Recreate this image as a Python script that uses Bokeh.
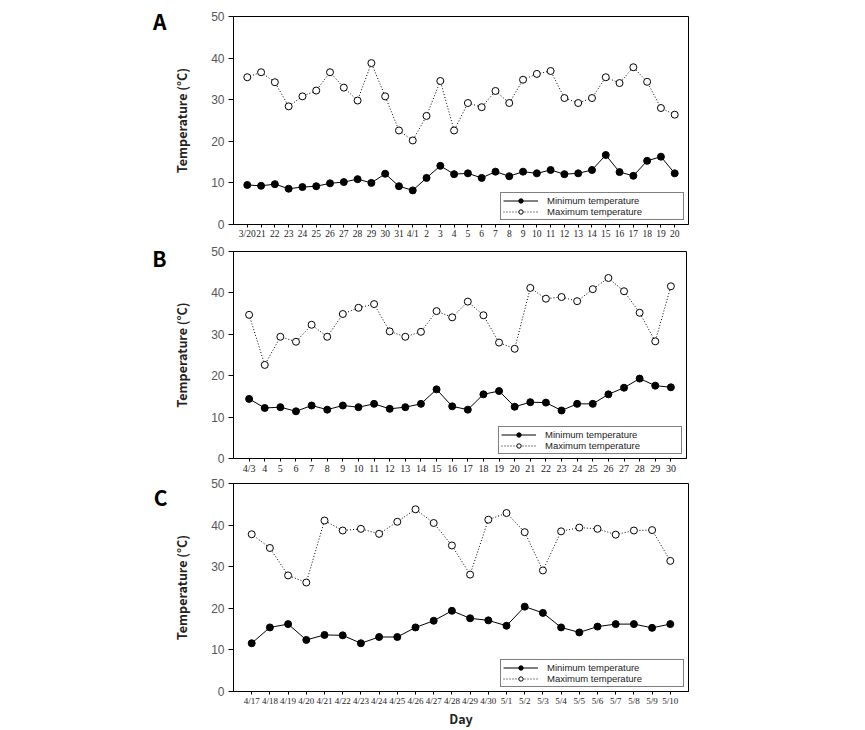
from bokeh.plotting import figure
from bokeh.layouts import column
from bokeh.models import FixedTicker, Legend, Range1d, LinearAxis
from bokeh.embed import file_html
from bokeh.resources import INLINE

# ---------------- data ----------------
days_a = ["3/20", "21", "22", "23", "24", "25", "26", "27", "28", "29", "30", "31",
          "4/1", "2", "3", "4", "5", "6", "7", "8", "9", "10", "11", "12", "13", "14",
          "15", "16", "17", "18", "19", "20"]
min_a = [9.5, 9.3, 9.7, 8.6, 9.0, 9.2, 9.9, 10.2, 10.9, 10.0, 12.2, 9.2,
         8.2, 11.2, 14.1, 12.1, 12.3, 11.2, 12.7, 11.6, 12.7, 12.3, 13.1, 12.1, 12.3, 13.1,
         16.7, 12.6, 11.7, 15.3, 16.3, 12.3]
max_a = [35.4, 36.6, 34.2, 28.4, 30.8, 32.2, 36.6, 32.9, 29.8, 38.8, 30.8, 22.6,
         20.2, 26.1, 34.5, 22.6, 29.2, 28.2, 32.1, 29.2, 34.8, 36.2, 36.9, 30.4, 29.2, 30.4,
         35.4, 34.0, 37.8, 34.3, 28.0, 26.4]

days_b = ["4/3", "4", "5", "6", "7", "8", "9", "10", "11", "12", "13", "14", "15", "16",
          "17", "18", "19", "20", "21", "22", "23", "24", "25", "26", "27", "28", "29", "30"]
min_b = [14.4, 12.2, 12.4, 11.4, 12.8, 11.8, 12.8, 12.4, 13.2, 12.0, 12.4, 13.2, 16.7, 12.6,
         11.8, 15.5, 16.3, 12.5, 13.6, 13.5, 11.6, 13.2, 13.2, 15.5, 17.1, 19.3, 17.6, 17.2]
max_b = [34.7, 22.6, 29.4, 28.2, 32.3, 29.4, 34.9, 36.4, 37.3, 30.7, 29.4, 30.6, 35.6, 34.1,
         37.9, 34.6, 28.0, 26.5, 41.2, 38.6, 39.0, 38.0, 40.9, 43.6, 40.4, 35.2, 28.3, 41.6]

days_c = ["4/17", "4/18", "4/19", "4/20", "4/21", "4/22", "4/23", "4/24", "4/25", "4/26",
          "4/27", "4/28", "4/29", "4/30", "5/1", "5/2", "5/3", "5/4", "5/5", "5/6", "5/7",
          "5/8", "5/9", "5/10"]
min_c = [11.6, 15.4, 16.2, 12.4, 13.6, 13.5, 11.6, 13.1, 13.1, 15.4, 17.0, 19.4, 17.6, 17.1,
         15.8, 20.4, 18.9, 15.4, 14.2, 15.6, 16.2, 16.2, 15.3, 16.2]
max_c = [37.8, 34.5, 27.9, 26.2, 41.1, 38.7, 39.1, 37.9, 40.8, 43.8, 40.5, 35.1, 28.1, 41.3,
         42.9, 38.3, 29.1, 38.5, 39.4, 39.1, 37.7, 38.7, 38.8, 31.4]

y_ticks = [0, 10, 20, 30, 40, 50]
series_names = ["Minimum temperature", "Maximum temperature"]
panel_letters = ["A", "B", "C"]

FONT = "Noto Sans CJK KR"
NARROW = "Liberation Sans Narrow"
SANS = "Liberation Sans"


def make_panel(days, mins, maxs, letter, frame_left, frame_w, frame_h, b_top, b_bottom,
               letter_y, letter_standoff, xfont, xlabel=None):
    n = len(days)
    x = list(range(n))
    p = figure(frame_width=frame_w, frame_height=frame_h,
               x_range=Range1d(-1, n), y_range=Range1d(0, 50),
               output_backend="svg", toolbar_location=None,
               min_border_left=frame_left, min_border_right=10,
               min_border_top=b_top, min_border_bottom=b_bottom)
    p.background_fill_color = "white"
    p.border_fill_color = "white"
    p.outline_line_color = "black"
    p.outline_line_width = 1
    p.xgrid.visible = False
    p.ygrid.visible = False

    r1 = p.line(x, mins, line_color="black", line_width=1)
    r2 = p.scatter(x, mins, marker="circle", size=7, fill_color="black", line_color="black")
    r3 = p.line(x, maxs, line_color="black", line_width=1, line_dash="1 2")
    r4 = p.scatter(x, maxs, marker="circle", size=7, fill_color="white", line_color="black",
                   line_width=1)

    legend = Legend(items=[(series_names[0], [r1, r2]), (series_names[1], [r3, r4])],
                    location="bottom_right")
    legend.margin = 4
    legend.padding = 2
    legend.spacing = 0
    legend.glyph_width = 35
    legend.glyph_height = 11
    legend.label_height = 11
    legend.label_width = 134
    legend.label_standoff = 9
    legend.label_text_font = SANS
    legend.label_text_font_size = "9.5px"
    legend.label_text_color = "#222222"
    legend.border_line_color = "black"
    legend.border_line_width = 1
    legend.background_fill_alpha = 1
    p.add_layout(legend, "center")

    xa = p.xaxis[0]
    xa.ticker = FixedTicker(ticks=x)
    xa.major_label_overrides = {i: d for i, d in enumerate(days)}
    xa.minor_tick_line_color = None
    xa.major_tick_in = 0
    xa.major_tick_out = 3
    xa.major_label_standoff = 1
    xa.major_label_text_font = NARROW
    xa.major_label_text_font_size = xfont
    xa.major_label_text_color = "#222222"
    xa.axis_line_color = "black"
    if xlabel:
        xa.axis_label = xlabel
        xa.axis_label_text_font = FONT
        xa.axis_label_text_font_size = "12.5px"
        xa.axis_label_text_font_style = "bold"
        xa.axis_label_text_color = "#222222"
        xa.axis_label_standoff = 0

    ya = p.yaxis[0]
    ya.ticker = FixedTicker(ticks=y_ticks)
    ya.minor_tick_line_color = None
    ya.major_tick_in = 0
    ya.major_tick_out = 5
    ya.major_label_standoff = 4
    ya.major_label_text_font = SANS
    ya.major_label_text_font_size = "12px"
    ya.major_label_text_color = "#555555"
    ya.axis_label = "Temperature (°C)"
    ya.axis_label_text_font = FONT
    ya.axis_label_text_font_size = "12.5px"
    ya.axis_label_text_font_style = "bold"
    ya.axis_label_text_color = "#222222"
    ya.axis_label_standoff = 17

    # panel letter as an extra left axis with one labelled tick
    la = LinearAxis(ticker=FixedTicker(ticks=[letter_y]),
                    major_label_overrides={letter_y: letter})
    la.axis_line_color = None
    la.major_tick_line_color = None
    la.minor_tick_line_color = None
    la.major_label_orientation = "horizontal"
    la.major_label_text_font = FONT
    la.major_label_text_font_size = "21px"
    la.major_label_text_font_style = "bold"
    la.major_label_text_color = "black"
    la.major_label_standoff = letter_standoff
    p.add_layout(la, "left")
    return p


pa = make_panel(days_a, min_a, max_a, panel_letters[0], 233, 455, 208, 16, 18, 48.9, -3, "9.5px")
pb = make_panel(days_b, min_b, max_b, panel_letters[1], 231, 453, 207, 9, 18, 48.4, -3, "10px")
pc = make_panel(days_c, min_c, max_c, panel_letters[2], 228, 455, 208, 7, 37, 49.5, -4, "9px",
                xlabel="Day")

layout = column(pa, pb, pc, spacing=0)
open("out.html", "w").write(file_html(layout, INLINE))
